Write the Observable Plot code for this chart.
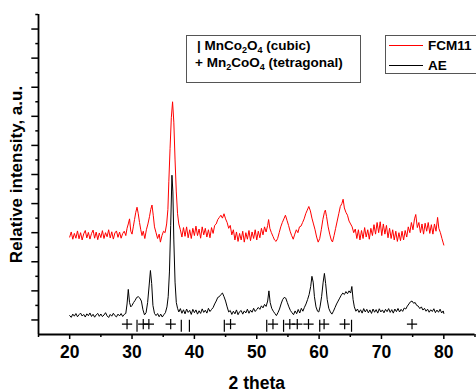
<!DOCTYPE html>
<html><head><meta charset="utf-8">
<script src="https://cdn.jsdelivr.net/npm/d3@7"></script>
<script src="https://cdn.jsdelivr.net/npm/@observablehq/plot@0.6"></script>
<style>
body{margin:0;background:#fff;}
#wrap{position:relative;width:476px;height:392px;font-family:"Liberation Sans",Arial,sans-serif;}
#ov{position:absolute;left:0;top:0;}
</style></head><body>
<div id="wrap"></div>
<script>
// AE sample scan: [2 theta, relative intensity]
const aeScan = [
[20.00,1.30],[20.25,1.18],[20.50,1.40],[20.75,1.26],[21.00,1.44],[21.25,1.22],[21.50,1.36],[21.75,1.47],[22.00,1.27],[22.25,1.38],[22.50,1.20],[22.75,1.42],
[23.00,1.29],[23.25,1.48],[23.50,1.24],[23.75,1.39],[24.00,1.19],[24.25,1.35],[24.50,1.45],[24.75,1.25],[25.00,1.41],[25.25,1.23],[25.50,1.34],[25.75,1.50],
[26.00,1.28],[26.25,1.17],[26.50,1.38],[26.75,1.26],[27.00,1.46],[27.25,1.30],[27.50,1.21],[27.75,1.40],[28.00,1.28],[28.25,1.44],[28.50,1.24],[28.75,1.38],
[29.00,1.45],[29.20,2.10],[29.40,3.10],[29.60,2.20],[29.80,1.90],[30.00,2.00],[30.25,2.20],[30.50,2.35],[30.75,2.55],[31.00,2.60],[31.25,2.50],[31.50,2.30],
[31.75,1.70],[32.00,1.35],[32.25,1.50],[32.50,2.20],[32.75,3.40],[32.95,4.40],[33.15,3.50],[33.35,2.00],[33.60,1.45],[33.85,1.30],[34.10,1.44],[34.35,1.22],
[34.60,1.40],[34.85,1.20],[35.10,1.36],[35.35,1.50],[35.60,1.90],[35.80,2.60],[36.00,4.30],[36.20,7.50],[36.40,10.95],[36.55,9.80],[36.70,6.50],[36.90,3.60],
[37.10,2.20],[37.30,1.80],[37.50,1.55],[37.75,1.78],[38.00,1.46],[38.25,1.70],[38.50,1.42],[38.75,1.75],[39.00,1.52],[39.25,1.66],[39.50,1.38],[39.75,1.73],
[40.00,1.50],[40.25,1.69],[40.50,1.40],[40.75,1.63],[41.00,1.45],[41.25,1.76],[41.50,1.52],[41.75,1.67],[42.00,1.47],[42.25,1.80],[42.50,1.58],[42.75,1.72],
[43.00,1.85],[43.25,2.10],[43.50,2.30],[43.75,2.55],[44.00,2.60],[44.25,2.75],[44.50,2.85],[44.75,2.60],[45.00,2.30],[45.25,1.90],[45.50,1.55],[45.75,1.65],
[46.00,1.38],[46.25,1.60],[46.50,1.42],[46.75,1.69],[47.00,1.36],[47.25,1.57],[47.50,1.65],[47.75,1.40],[48.00,1.62],[48.25,1.48],[48.50,1.74],[48.75,1.46],
[49.00,1.67],[49.25,1.53],[49.50,1.80],[49.75,1.58],[50.00,1.72],[50.25,1.86],[50.50,1.73],[50.75,1.97],[51.00,1.83],[51.25,2.07],[51.50,1.93],[51.75,2.30],
[51.95,3.00],[52.15,2.20],[52.40,1.80],[52.65,1.60],[52.90,1.45],[53.15,1.30],[53.40,1.50],[53.65,1.75],[53.90,2.10],[54.15,2.40],[54.40,2.55],[54.65,2.50],
[54.90,2.20],[55.15,1.90],[55.40,1.65],[55.65,1.50],[55.90,1.36],[56.15,1.62],[56.40,1.43],[56.65,1.72],[56.90,1.48],[57.15,1.80],[57.40,1.60],[57.65,1.87],
[57.90,2.10],[58.15,2.40],[58.40,2.75],[58.65,3.30],[58.85,4.00],[59.05,3.60],[59.25,2.60],[59.50,1.90],[59.75,1.60],[59.95,1.55],[60.15,1.90],[60.40,2.60],
[60.65,3.60],[60.85,4.20],[61.05,3.50],[61.30,2.40],[61.55,1.80],[61.80,1.55],[62.05,1.40],[62.30,1.60],[62.55,1.85],[62.80,2.10],[63.05,2.30],[63.30,2.50],
[63.55,2.70],[63.80,2.85],[64.05,2.75],[64.30,2.95],[64.55,2.80],[64.80,3.00],[65.05,2.85],[65.25,3.30],[65.45,2.40],[65.65,1.90],[65.90,1.60],[66.15,1.75],
[66.40,1.52],[66.65,1.70],[66.90,1.47],[67.15,1.78],[67.40,1.55],[67.65,1.73],[67.90,1.49],[68.15,1.69],[68.40,1.45],[68.65,1.75],[68.90,1.53],[69.15,1.71],
[69.40,1.47],[69.65,1.77],[69.90,1.55],[70.15,1.69],[70.40,1.49],[70.65,1.73],[70.90,1.57],[71.15,1.78],[71.40,1.52],[71.65,1.71],[71.90,1.47],[72.15,1.75],
[72.40,1.57],[72.65,1.79],[72.90,1.55],[73.15,1.73],[73.40,1.59],[73.65,1.82],[73.90,1.75],[74.15,1.95],[74.40,2.10],[74.65,2.25],[74.90,2.30],[75.15,2.15],
[75.40,2.20],[75.65,2.00],[75.90,1.95],[76.15,1.78],[76.40,1.90],[76.65,1.68],[76.90,1.80],[77.15,1.60],[77.40,1.74],[77.65,1.53],[77.90,1.70],[78.15,1.58],
[78.40,1.77],[78.65,1.50],[78.90,1.68],[79.15,1.53],[79.40,1.74],[79.65,1.48],[79.90,1.62],[80.00,1.45]
];
// FCM11 sample scan: [2 theta, relative intensity] (offset above AE)
const fcmScan = [
[20.00,6.70],[20.25,7.05],[20.50,6.55],[20.75,6.95],[21.00,6.62],[21.25,7.12],[21.50,6.58],[21.75,7.00],[22.00,6.50],[22.25,6.92],[22.50,7.15],[22.75,6.64],
[23.00,7.02],[23.25,6.56],[23.50,6.94],[23.75,7.18],[24.00,6.62],[24.25,7.04],[24.50,6.52],[24.75,6.98],[25.00,6.66],[25.25,7.14],[25.50,6.60],[25.75,7.00],
[26.00,6.72],[26.25,7.20],[26.50,6.64],[26.75,7.06],[27.00,6.56],[27.25,6.98],[27.50,7.12],[27.75,6.68],[28.00,7.04],[28.25,6.62],[28.50,6.94],[28.75,7.10],
[29.00,6.80],[29.20,7.30],[29.40,7.60],[29.60,7.95],[29.80,7.10],[30.00,6.90],[30.20,7.40],[30.40,7.90],[30.60,8.40],[30.80,8.75],[31.00,8.30],[31.20,7.70],
[31.40,7.20],[31.60,6.80],[31.80,7.10],[32.05,6.60],[32.30,7.20],[32.55,7.60],[32.80,8.10],[33.00,8.60],[33.20,8.90],[33.40,8.20],[33.60,7.40],[33.85,7.00],
[34.10,6.60],[34.35,6.90],[34.55,6.35],[34.80,6.80],[35.05,7.10],[35.30,7.00],[35.55,7.60],[35.75,8.60],[35.90,10.50],[36.10,12.80],[36.30,14.90],[36.50,16.00],
[36.70,14.60],[36.90,12.00],[37.10,9.80],[37.30,8.30],[37.50,7.60],[37.75,7.20],[38.00,6.70],[38.25,7.35],[38.50,6.75],[38.75,7.40],[39.00,6.65],[39.25,7.20],
[39.50,6.60],[39.75,7.30],[40.00,6.80],[40.25,7.45],[40.50,6.80],[40.75,7.25],[41.00,6.62],[41.25,7.40],[41.50,6.85],[41.75,7.30],[42.00,6.70],[42.25,7.20],
[42.50,6.65],[42.75,7.35],[43.00,6.95],[43.25,7.50],[43.50,7.60],[43.75,7.90],[44.00,8.05],[44.25,8.20],[44.50,8.00],[44.75,8.30],[45.00,7.95],[45.25,7.70],
[45.50,7.30],[45.75,7.50],[46.00,6.85],[46.25,7.20],[46.50,6.50],[46.75,7.05],[47.00,6.40],[47.25,6.95],[47.50,6.50],[47.75,7.10],[48.00,6.35],[48.25,7.00],
[48.50,6.55],[48.75,7.15],[49.00,6.45],[49.25,7.05],[49.50,6.60],[49.75,7.20],[50.00,6.50],[50.25,7.10],[50.50,6.65],[50.75,7.30],[51.00,6.85],[51.25,7.40],
[51.50,7.05],[51.75,7.50],[51.90,7.90],[52.10,7.30],[52.35,7.00],[52.60,6.75],[52.85,6.50],[53.10,6.40],[53.35,6.60],[53.60,7.00],[53.85,7.40],[54.10,7.70],
[54.35,7.95],[54.60,8.20],[54.85,7.85],[55.10,7.50],[55.35,7.10],[55.60,6.80],[55.85,6.55],[56.10,6.90],[56.35,7.20],[56.60,7.00],[56.85,7.40],[57.10,7.45],
[57.35,7.70],[57.60,7.95],[57.85,8.30],[58.10,8.55],[58.35,8.80],[58.60,8.50],[58.85,8.00],[59.10,7.60],[59.35,7.20],[59.60,6.70],[59.85,6.35],[60.10,6.60],
[60.35,7.20],[60.60,7.90],[60.85,8.40],[61.00,8.55],[61.20,8.10],[61.45,7.40],[61.70,6.90],[61.95,6.50],[62.15,6.36],[62.40,6.80],[62.65,7.30],[62.90,7.80],
[63.15,8.30],[63.40,8.80],[63.65,9.00],[63.85,9.30],[64.05,8.70],[64.30,8.40],[64.55,8.20],[64.80,7.80],[65.05,7.60],[65.30,7.40],[65.55,7.00],[65.80,7.25],
[66.05,6.60],[66.30,7.20],[66.55,6.50],[66.80,7.15],[67.05,6.60],[67.30,7.35],[67.55,6.70],[67.80,7.20],[68.05,6.55],[68.30,7.30],[68.55,6.80],[68.80,7.55],
[69.05,6.90],[69.30,7.70],[69.55,7.00],[69.80,7.75],[70.05,6.80],[70.30,7.60],[70.55,6.90],[70.80,7.50],[71.05,6.65],[71.30,7.30],[71.55,6.60],[71.80,7.20],
[72.05,6.50],[72.30,7.10],[72.55,6.40],[72.80,7.00],[73.05,6.45],[73.30,7.10],[73.55,6.50],[73.80,7.15],[74.05,6.70],[74.30,7.40],[74.55,7.00],[74.80,7.70],
[75.05,7.20],[75.30,7.95],[75.50,8.25],[75.75,7.35],[76.00,7.70],[76.25,7.00],[76.50,7.60],[76.75,6.90],[77.00,7.65],[77.25,7.10],[77.50,7.70],[77.75,6.95],
[78.00,7.55],[78.25,6.90],[78.50,7.60],[78.75,7.10],[79.00,8.05],[79.20,7.30],[79.45,7.00],[79.70,6.60],[79.90,6.30],[80.00,6.15]
];
// Reference reflections
const cubicPeaks = [30.8, 37.9, 39.2, 44.8, 51.6, 54.3, 60.1, 65.2];          // | MnCo2O4 (cubic)
const tetragonalPeaks = [29.2, 31.8, 32.7, 36.2, 45.8, 52.6, 55.3, 56.5, 58.3, 60.8, 64.1, 74.9]; // + Mn2CoO4
// Axis ticks
const xMajorTicks = [20, 30, 40, 50, 60, 70, 80];
const xMinorTicks = [15, 25, 35, 45, 55, 65, 75, 85];
const yMajorTicks = [1, 3, 5, 7, 9, 11, 13, 15, 17, 19, 21];
const yMinorTicks = [2, 4, 6, 8, 10, 12, 14, 16, 18, 20, 22];

const chart = Plot.plot({
  width: 476, height: 392,
  marginTop: 14, marginLeft: 38, marginRight: 1.5, marginBottom: 58,
  x: {domain: [15, 85]},
  y: {domain: [0, 22]},
  style: {fontFamily: "'Liberation Sans', Arial, sans-serif", fontSize: "17.5px", fontWeight: "bold", color: "#000", background: "transparent", overflow: "visible"},
  marks: [
    Plot.axisX({ticks: xMinorTicks, tickSize: 3, strokeWidth: 1.5, tickFormat: () => "", label: null}),
    Plot.axisX({ticks: xMajorTicks, tickSize: 5, strokeWidth: 1.5, tickPadding: 6, tickFormat: d => d, label: "2 theta", labelAnchor: "center", labelOffset: 54, labelArrow: "none"}),
    Plot.axisY({ticks: yMinorTicks, tickSize: 2.7, strokeWidth: 1.5, tickFormat: () => "", label: null}),
    Plot.axisY({ticks: yMajorTicks, tickSize: 6.7, strokeWidth: 1.5, tickFormat: () => "", label: "Relative intensity, a.u.", labelAnchor: "center", labelOffset: 29, labelArrow: "none", fontSize: 17}),
    Plot.ruleY([0], {strokeWidth: 1.8}),
    Plot.ruleX([15], {strokeWidth: 1.8}),
    Plot.line(fcmScan, {x: d => d[0], y: d => d[1], stroke: "#ff0000", strokeWidth: 1}),
    Plot.line(aeScan, {x: d => d[0], y: d => d[1], stroke: "#000000", strokeWidth: 1}),
    Plot.ruleX(cubicPeaks, {y1: 0.15, y2: 0.98, stroke: "#000", strokeWidth: 1.2}),
    Plot.dot(tetragonalPeaks, {x: d => d, y: 0.71, symbol: "plus", r: 3.4, stroke: "#000", strokeWidth: 1.2})
  ]
});
const wrap = document.getElementById("wrap");
wrap.appendChild(chart);

// Legend and phase key overlays
const ns = "http://www.w3.org/2000/svg";
wrap.insertAdjacentHTML("beforeend", `
<svg id="ov" width="476" height="392" xmlns="${ns}" font-family="'Liberation Sans', Arial, sans-serif" font-weight="bold" font-size="13.5">
  <rect x="186.5" y="35.5" width="174" height="47" fill="#fff" stroke="#555" stroke-width="1"/>
  <text x="197" y="50">| MnCo<tspan font-size="9" dy="3">2</tspan><tspan dy="-3">O</tspan><tspan font-size="9" dy="3">4</tspan><tspan dy="-3"> (cubic)</tspan></text>
  <text x="195" y="67">+ Mn<tspan font-size="9" dy="3">2</tspan><tspan dy="-3">CoO</tspan><tspan font-size="9" dy="3">4</tspan><tspan dy="-3"> (tetragonal)</tspan></text>
  <rect x="385.5" y="35.5" width="100" height="38" fill="#fff" stroke="#555" stroke-width="1"/>
  <line x1="389" x2="423" y1="45.5" y2="45.5" stroke="#ff0000" stroke-width="1"/>
  <text x="428" y="50">FCM11</text>
  <line x1="389" x2="423" y1="65.5" y2="65.5" stroke="#000" stroke-width="1"/>
  <text x="428" y="70">AE</text>
</svg>`);
</script>
</body></html>
